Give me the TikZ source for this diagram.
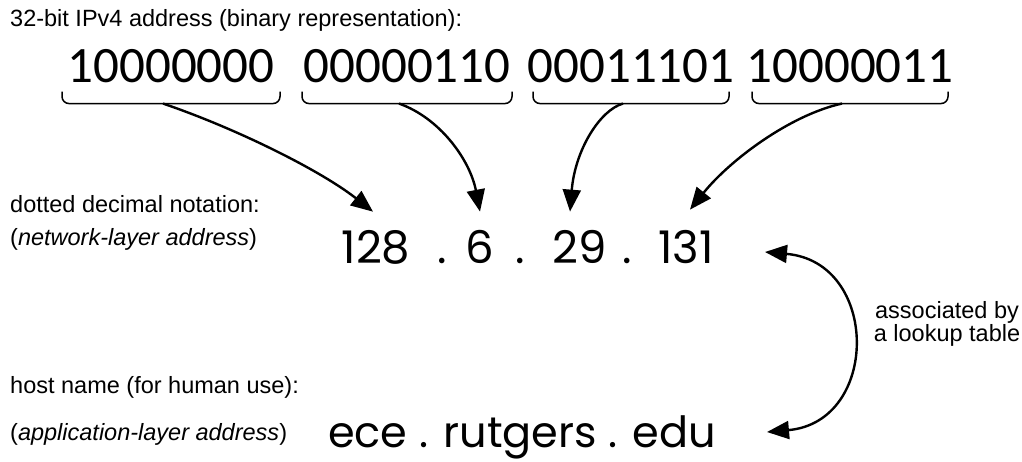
\documentclass[tikz,border=0pt]{standalone}
\usepackage{fontspec}
\setmainfont{Liberation Sans}
\newfontfamily\bitfont{Carlito}
\newfontfamily\handfont{Poppins}
\usetikzlibrary{arrows.meta}
\begin{document}
\begin{tikzpicture}[x=1pt, y=-1pt,
lbl/.style={anchor=base west, inner sep=0pt, font=\fontsize{23.5}{23}\selectfont},
byte/.style={anchor=base, inner sep=0pt, font=\bitfont\fontsize{51}{60}\selectfont},
big/.style={anchor=base, inner sep=0pt, font=\handfont\fontsize{45}{52}\selectfont},
brace/.style={line width=1.5pt, rounded corners=7pt},
arrow/.style={-{Triangle[length=22pt,width=18pt]}, line width=2.4pt},
dblarrow/.style={{Triangle[length=22pt,width=18pt]}-{Triangle[length=22pt,width=18pt]}, line width=2.4pt}
]
\useasboundingbox (0,0) rectangle (1022,461);
% labels on the left
\node[lbl] (title) at (10,26) {32-bit IPv4 address (binary representation):};
\node[lbl] (dotlbl) at (10,212) {dotted decimal notation:};
\node[lbl] (netlbl) at (10,245) {(\textit{network-layer address})};
\node[lbl] (hostlbl) at (10,393) {host name (for human use):};
\node[lbl] (applbl) at (10,440) {(\textit{application-layer address})};
% the four bytes and their braces
\foreach \b/\x/\w [count=\i] in {10000000/171/109, 00000110/407/105, 00011101/631/98, 10000011/850/98} {
  \node[byte] (b\i) at (\x,82) {\b};
  \coordinate (m\i) at ([xshift=-8pt,yshift=-21pt]b\i.south);
  \draw[brace] ([xshift=-\w pt,yshift=-9pt]b\i.south) |- (m\i) -| ([xshift=\w pt,yshift=-9pt]b\i.south);
}
% dotted decimal
\foreach \t/\x [count=\i] in {128/376, 6/480, 29/580, 131/686}
  \node[big] (d\i) at (\x,263) {\t};
\foreach \x [count=\i] in {442,520,627}
  \node[big] (p\i) at (\x,263) {.};
% host name
\node[big, font=\handfont\fontsize{43}{50}\selectfont, anchor=base west] (host) at (328,447) {ece . rutgers . edu};
\coordinate (t1) at ([xshift=-3pt,yshift=18pt]d1.north);
\coordinate (t2) at ([yshift=18pt]d2.north);
\coordinate (t3) at ([xshift=-10pt,yshift=18pt]d3.north);
\coordinate (t4) at ([xshift=4pt,yshift=20pt]d4.north);
\draw[arrow] (m1) .. controls (235,128) and (320,170) .. (t1);
\draw[arrow] (m2) .. controls (440,118) and (470,160) .. (t2);
\draw[arrow] (m3) .. controls (600,110) and (575,150) .. (t3);
\draw[arrow] (m4) .. controls (790,115) and (730,160) .. (t4);
% lookup table
\coordinate (u) at (765,252);
\coordinate (w) at (767,432);
\draw[dblarrow] (u) .. controls (880,262) and (880,422) .. (w);
\node[lbl, anchor=base, align=center] (lookup) at (947,341) {associated by\\a lookup table};
\end{tikzpicture}
\end{document}
